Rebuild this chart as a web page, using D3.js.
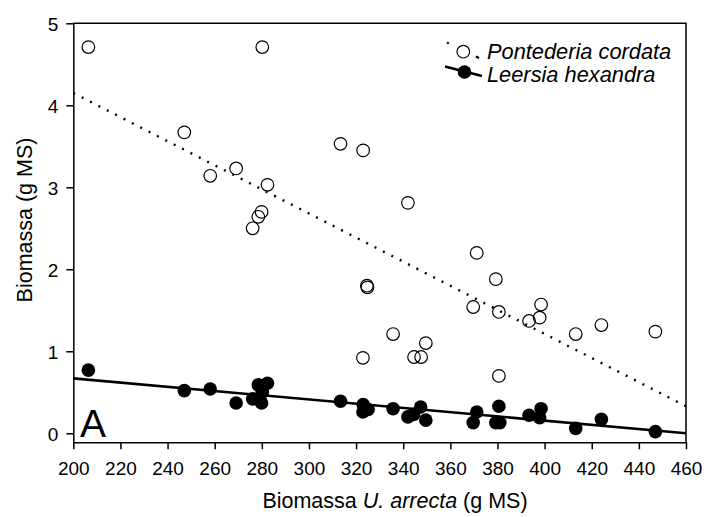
<!DOCTYPE html>
<html>
<head>
<meta charset="utf-8">
<script src="https://cdn.jsdelivr.net/npm/d3@7"></script>
<style>
  html, body { margin: 0; padding: 0; background: #fff; }
  svg { display: block; }
  text { font-family: "Liberation Sans", Arial, sans-serif; fill: #000; }
</style>
</head>
<body>
<svg id="chart" width="706" height="517"></svg>
<script>
// Biomass of U. arrecta (x) vs. biomass of associated species (y), g MS
const pontederiaX = [206.4, 280.2, 247.1, 258.1, 269.1, 282.4, 279.9, 278.5, 276.1, 313.4,
                     323.0, 342.0, 324.6, 324.8, 335.7, 349.6, 344.6, 347.6, 322.9, 369.7,
                     371.2, 379.3, 380.6, 380.6, 393.4, 397.9, 398.5, 413.2, 424.1, 447.0];
const pontederiaY = [4.71, 4.71, 3.67, 3.14, 3.23, 3.03, 2.70, 2.64, 2.50, 3.53,
                     3.45, 2.81, 1.80, 1.78, 1.21, 1.10, 0.93, 0.93, 0.92, 1.54,
                     2.20, 1.88, 1.48, 0.70, 1.37, 1.41, 1.57, 1.21, 1.32, 1.24];

const leersiaX = [206.4, 247.1, 258.1, 269.1, 276.1, 278.5, 279.9, 280.2, 282.4, 313.4,
                  322.9, 323.0, 325.1, 335.7, 342.0, 344.4, 347.4, 349.6, 369.7, 371.2,
                  379.3, 380.6, 381.0, 393.4, 397.9, 398.5, 413.2, 424.1, 447.0];
const leersiaY = [0.77, 0.52, 0.54, 0.37, 0.42, 0.59, 0.37, 0.50, 0.61, 0.39,
                  0.26, 0.35, 0.29, 0.30, 0.20, 0.23, 0.32, 0.16, 0.13, 0.26,
                  0.13, 0.33, 0.13, 0.22, 0.19, 0.30, 0.06, 0.17, 0.02];

// Fitted regression lines, evaluated at the ends of the x range
const fitX = [200, 460];
const pontederiaFitY = [4.15, 0.33];
const leersiaFitY = [0.67, 0.0];

const xTicks = [200, 220, 240, 260, 280, 300, 320, 340, 360, 380, 400, 420, 440, 460];
const yTicks = [0, 1, 2, 3, 4, 5];
const seriesNames = ["Pontederia cordata", "Leersia hexandra"];

const svg = d3.select("#chart");
const plotLeft = 73.3, plotRight = 686, plotTop = 23.3, plotBottom = 442.3;

const x = d3.scaleLinear().domain([200, 460]).range([plotLeft, plotRight]);
const y = d3.scaleLinear().domain([-0.11, 5]).range([plotBottom, plotTop]);

// Frame (top and right edges)
svg.append("path")
  .attr("d", `M${plotLeft},${plotTop}H${plotRight}V${plotBottom}`)
  .attr("fill", "none").attr("stroke", "#000").attr("stroke-width", 1.5);

// Axes
const xAxis = svg.append("g")
  .attr("transform", `translate(0,${plotBottom})`)
  .call(d3.axisBottom(x).tickValues(xTicks).tickFormat(d3.format("d"))
    .tickSize(7).tickPadding(12).tickSizeOuter(0));
const yAxis = svg.append("g")
  .attr("transform", `translate(${plotLeft},0)`)
  .call(d3.axisLeft(y).tickValues(yTicks).tickFormat(d3.format("d"))
    .tickSize(7).tickPadding(8).tickSizeOuter(0));

[xAxis, yAxis].forEach(g => {
  g.select(".domain").attr("stroke-width", 1.5);
  g.selectAll(".tick line").attr("stroke-width", 1.5);
  g.selectAll("text").attr("font-size", 19)
    .attr("font-family", "'Liberation Sans', Arial, sans-serif");
});
yAxis.selectAll("text").attr("dy", "0.36em");

// Clip for regression lines
svg.append("clipPath").attr("id", "plotClip")
  .append("rect").attr("x", plotLeft).attr("y", plotTop)
  .attr("width", plotRight - plotLeft).attr("height", plotBottom - plotTop);

const line = d3.line().x(d => x(d[0])).y(d => y(d[1]));

svg.append("path")
  .datum(d3.zip(fitX, pontederiaFitY))
  .attr("clip-path", "url(#plotClip)")
  .attr("d", line)
  .attr("fill", "none").attr("stroke", "#000")
  .attr("stroke-width", 2.4).attr("stroke-dasharray", "2,7.4");

svg.append("path")
  .datum(d3.zip(fitX, leersiaFitY))
  .attr("clip-path", "url(#plotClip)")
  .attr("d", line)
  .attr("fill", "none").attr("stroke", "#000")
  .attr("stroke-width", 2.6);

// Points
svg.append("g").selectAll("circle")
  .data(d3.zip(pontederiaX, pontederiaY))
  .join("circle")
  .attr("cx", d => x(d[0])).attr("cy", d => y(d[1])).attr("r", 6.3)
  .attr("fill", "none").attr("stroke", "#000").attr("stroke-width", 1.2);

svg.append("g").selectAll("circle")
  .data(d3.zip(leersiaX, leersiaY))
  .join("circle")
  .attr("cx", d => x(d[0])).attr("cy", d => y(d[1])).attr("r", 6.8)
  .attr("fill", "#000");

// Legend
const lg = svg.append("g");
lg.append("line").attr("x1", 447).attr("y1", 42.5).attr("x2", 479).attr("y2", 58)
  .attr("stroke", "#000").attr("stroke-width", 2.2).attr("stroke-dasharray", "2,30");
lg.append("line").attr("x1", 479).attr("y1", 58).attr("x2", 477).attr("y2", 57)
  .attr("stroke", "#000").attr("stroke-width", 2.2);
lg.append("circle").attr("cx", 463.3).attr("cy", 51.7).attr("r", 6.3)
  .attr("fill", "#fff").attr("stroke", "#000").attr("stroke-width", 1.2);
lg.append("line").attr("x1", 445).attr("y1", 66.5).attr("x2", 482).attr("y2", 76)
  .attr("stroke", "#000").attr("stroke-width", 2.6);
lg.append("circle").attr("cx", 464.5).attr("cy", 72).attr("r", 6.8).attr("fill", "#000");
lg.selectAll("text.lbl")
  .data(seriesNames)
  .join("text")
  .attr("class", "lbl")
  .attr("x", 487).attr("y", (d, i) => 58.5 + i * 23)
  .attr("font-size", 21.8).attr("font-style", "italic")
  .text(d => d);

// Panel letter
svg.append("text").attr("x", 80).attr("y", 436.5)
  .attr("font-size", 39).text("A");

// Axis titles
const xt = svg.append("text").attr("x", 395).attr("y", 508)
  .attr("text-anchor", "middle").attr("font-size", 21.5);
xt.append("tspan").text("Biomassa ");
xt.append("tspan").attr("font-style", "italic").text("U. arrecta");
xt.append("tspan").text(" (g MS)");

svg.append("text")
  .attr("transform", "translate(32,220) rotate(-90)")
  .attr("text-anchor", "middle").attr("font-size", 21.5)
  .text("Biomassa (g MS)");
</script>
</body>
</html>
